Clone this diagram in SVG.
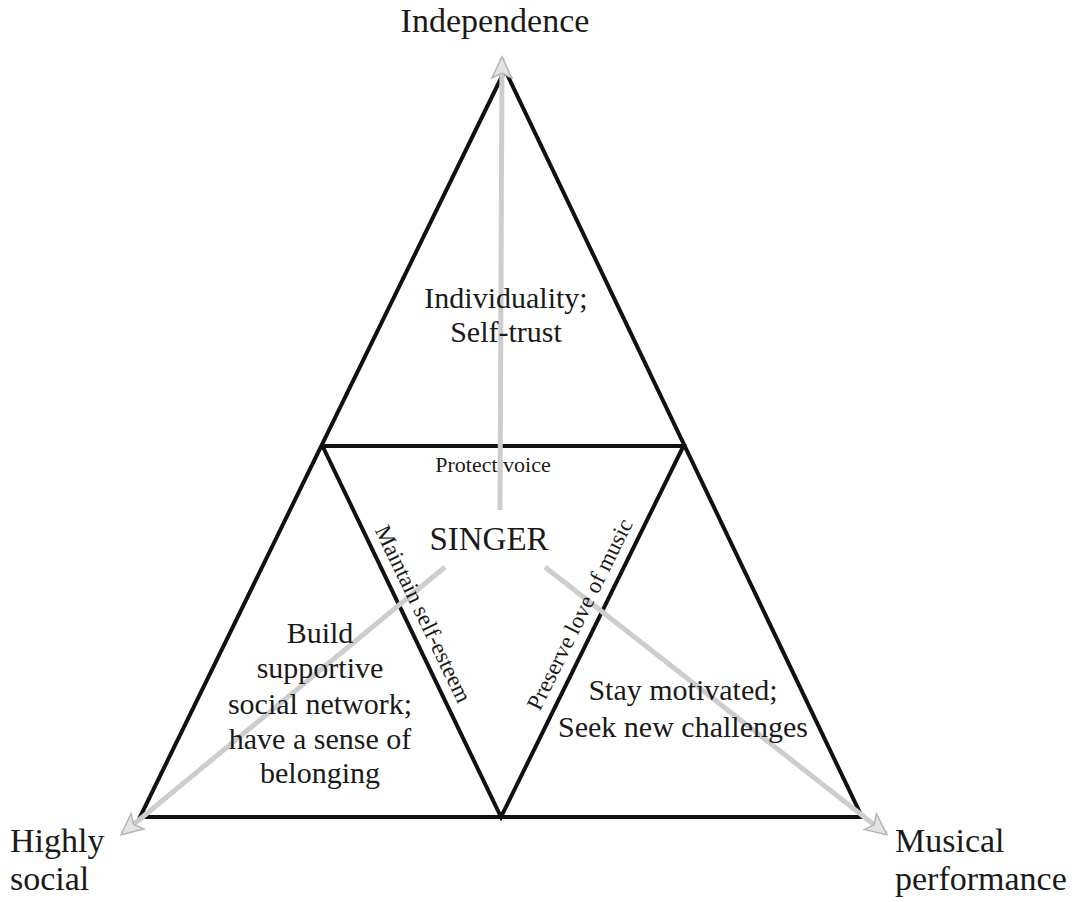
<svg xmlns="http://www.w3.org/2000/svg" width="1090" height="902" viewBox="0 0 1090 902">
<defs>
<style>
.t { font-family: "Liberation Serif", "DejaVu Serif", serif; fill: #1a1a1a; }
.big { font-size: 34px; }
.mid { font-size: 30px; }
.rot { font-size: 23px; }
.tri { fill: none; stroke: #111; stroke-width: 4; stroke-linejoin: miter; }
.arr { stroke: #cdcdcd; stroke-width: 5; fill: none; marker-end: url(#ah); }
</style>
<marker id="ah" viewBox="0 0 20 20" refX="17" refY="10" markerWidth="5" markerHeight="5" orient="auto" markerUnits="strokeWidth">
<path d="M1,2 L18,10 L1,18 L5,10 Z" fill="#e4e4e4" stroke="#b5b5b5" stroke-width="1.2"/>
</marker>
</defs>
<rect width="1090" height="902" fill="#ffffff"/>

<g id="triangles">
<polygon class="tri" points="505,70 140,817 862,817"/>
<polyline class="tri" points="322.5,446 683.5,446 501,817 322.5,446"/>
</g>

<g id="connectors">
<line class="arr" x1="500" y1="510" x2="502" y2="58"/>
<line class="arr" x1="445" y1="567" x2="122" y2="834"/>
<line class="arr" x1="545" y1="567" x2="886" y2="834"/>
</g>

<g id="independence" class="t" font-family="Liberation Serif, serif"><text class="big" x="495" y="32" text-anchor="middle">Independence</text></g>
<g id="highly-social" class="t" font-family="Liberation Serif, serif">
<text class="big" x="10" y="852">Highly</text>
<text class="big" x="10" y="890">social</text>
</g>
<g id="musical-performance" class="t" font-family="Liberation Serif, serif">
<text class="big" x="895" y="852">Musical</text>
<text class="big" x="895" y="890">performance</text>
</g>
<g id="individuality" class="t" font-family="Liberation Serif, serif">
<text class="mid" x="506" y="308" text-anchor="middle">Individuality;</text>
<text class="mid" x="506" y="342" text-anchor="middle">Self-trust</text>
</g>
<g id="protect-voice" class="t" font-family="Liberation Serif, serif"><text x="493" y="472" text-anchor="middle" font-size="22">Protect voice</text></g>
<g id="singer" class="t" font-family="Liberation Serif, serif"><text x="489" y="550" text-anchor="middle" font-size="33">SINGER</text></g>
<g id="build-network" class="t" font-family="Liberation Serif, serif">
<text class="mid" x="320" y="643" text-anchor="middle">Build</text>
<text class="mid" x="320" y="678" text-anchor="middle">supportive</text>
<text class="mid" x="320" y="714" text-anchor="middle">social network;</text>
<text class="mid" x="320" y="749" text-anchor="middle">have a sense of</text>
<text class="mid" x="320" y="783" text-anchor="middle">belonging</text>
</g>
<g id="stay-motivated" class="t" font-family="Liberation Serif, serif">
<text class="mid" x="683" y="700" text-anchor="middle">Stay motivated;</text>
<text class="mid" x="683" y="737" text-anchor="middle">Seek new challenges</text>
</g>
<g id="maintain-self-esteem" class="t" font-family="Liberation Serif, serif"><text class="rot" text-anchor="middle" transform="translate(416.3,617.2) rotate(64.37)">Maintain self-esteem</text></g>
<g id="preserve-love" class="t" font-family="Liberation Serif, serif"><text class="rot" text-anchor="middle" transform="translate(586.5,617.7) rotate(-63.6)">Preserve love of music</text></g>
</svg>
